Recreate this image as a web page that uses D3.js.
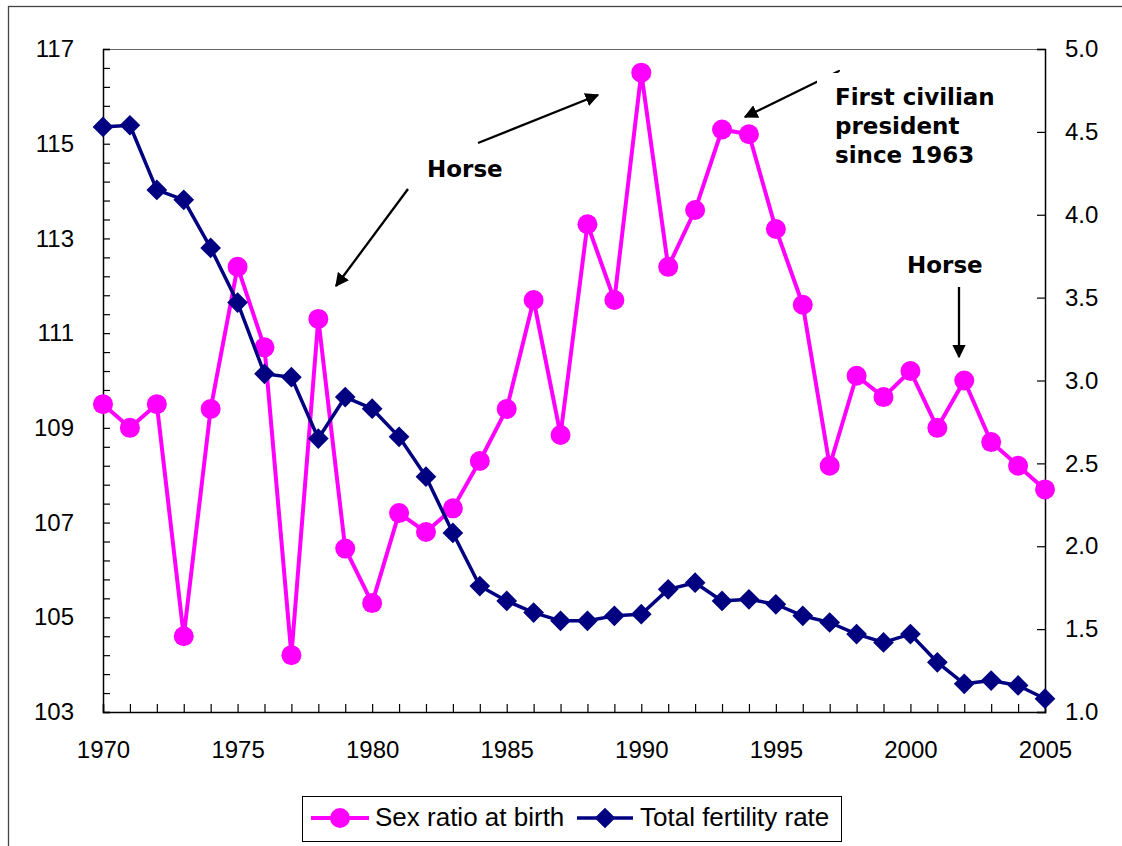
<!DOCTYPE html>
<html>
<head>
<meta charset="utf-8">
<script src="https://cdn.jsdelivr.net/npm/d3@7"></script>
<style>
  body { margin:0; background:#fff; }
  svg { display:block; }
  .tick text { font-family: Arial, "Liberation Sans", sans-serif; font-size:24px; fill:#000; }
  .note { font-family: Verdana, "DejaVu Sans", sans-serif; font-weight:bold; font-size:23px; fill:#000; }
  .leg { font-family: Arial, "Liberation Sans", sans-serif; font-size:26px; fill:#000; }
</style>
</head>
<body>
<script>
// data
var years = d3.range(1970, 2006)
var sexRatio = [109.5,109.0,109.5,104.6,109.4,112.4,110.7,104.2,111.3,106.45,
                105.3,107.2,106.8,107.3,108.3,109.4,111.7,108.85,113.3,111.7,
                116.5,112.4,113.6,115.3,115.2,113.2,111.6,108.2,110.1,109.65,
                110.2,109.0,110.0,108.7,108.2,107.7]
var tfr = [4.53,4.54,4.15,4.09,3.80,3.47,3.04,3.02,2.65,2.90,
           2.83,2.66,2.42,2.08,1.76,1.67,1.60,1.55,1.55,1.58,
           1.59,1.74,1.78,1.67,1.68,1.65,1.58,1.54,1.47,1.42,
           1.47,1.30,1.17,1.19,1.16,1.08]
var xLabels = [1970,1975,1980,1985,1990,1995,2000,2005]
var leftLabels = [103,105,107,109,111,113,115,117]
var rightTicks = [1.0,1.5,2.0,2.5,3.0,3.5,4.0,4.5,5.0]
var seriesNames = ['Sex ratio at birth','Total fertility rate']

var W=1122, H=846
var L=103, R=1045, T=49, B=712

var svg=d3.select('body').append('svg').attr('width',W).attr('height',H)

// chart area border (runs off the right and bottom)
svg.append('rect').attr('x',8.5).attr('y',6.5).attr('width',1200).attr('height',1000)
  .attr('fill','none').attr('stroke','#444').attr('stroke-width',1.3)

var x=d3.scaleLinear().domain([1970,2005]).range([L,R])
var yL=d3.scaleLinear().domain([103,117]).range([B,T])
var yR=d3.scaleLinear().domain([1,5]).range([B,T])

// plot area top edge
svg.append('line').attr('x1',L).attr('x2',R).attr('y1',T+0.5).attr('y2',T+0.5)
  .attr('stroke','#666').attr('stroke-width',1.2)

// left axis: ticks every 0.4, labels at odd integers
var leftTicks=d3.range(0,36).map(function(k){return 103+0.4*k})
var axL=d3.axisLeft(yL).tickValues(leftTicks).tickSize(-7).tickPadding(29)
  .tickFormat(function(v){
    var r=Math.round(v)
    return (Math.abs(v-r)<1e-6 && leftLabels.indexOf(r)>=0) ? r : ''
  })
svg.append('g').attr('transform','translate('+L+',0)').call(axL)

var axR=d3.axisRight(yR).tickValues(rightTicks).tickSize(-8).tickPadding(20)
  .tickFormat(d3.format('.1f'))
svg.append('g').attr('transform','translate('+R+',0)').call(axR)

var axB=d3.axisBottom(x).tickValues(years).tickSize(-8).tickPadding(29)
  .tickFormat(function(v){return xLabels.indexOf(v)>=0 ? v : ''})
svg.append('g').attr('transform','translate(0,'+B+')').call(axB)

svg.selectAll('.domain').attr('stroke','#000').attr('stroke-width',1.5)
svg.selectAll('.tick line').attr('stroke','#000').attr('stroke-width',1.2)

// sex ratio series
var lineL=d3.line().x(function(d,i){return x(years[i])}).y(function(d){return yL(d)})
svg.append('path').attr('d',lineL(sexRatio)).attr('fill','none')
  .attr('stroke','#ff00ff').attr('stroke-width',4).attr('stroke-linejoin','round')
svg.append('g').selectAll('circle').data(sexRatio).enter().append('circle')
  .attr('cx',function(d,i){return x(years[i])}).attr('cy',function(d){return yL(d)})
  .attr('r',10).attr('fill','#ff00ff')

// fertility series
var lineR=d3.line().x(function(d,i){return x(years[i])}).y(function(d){return yR(d)})
svg.append('path').attr('d',lineR(tfr)).attr('fill','none')
  .attr('stroke','#000080').attr('stroke-width',3.5).attr('stroke-linejoin','round')
var diamond=d3.symbol().type(d3.symbolSquare).size(215)
svg.append('g').selectAll('path').data(tfr).enter().append('path')
  .attr('d',diamond)
  .attr('transform',function(d,i){return 'translate('+x(years[i])+','+yR(d)+') rotate(45)'})
  .attr('fill','#000080')

// annotations
var defs=svg.append('defs')
defs.append('marker').attr('id','ah').attr('viewBox','0 0 10 10').attr('refX',9).attr('refY',5)
  .attr('markerWidth',6).attr('markerHeight',6).attr('markerUnits','strokeWidth').attr('orient','auto')
  .append('path').attr('d','M0,0 L10,5 L0,10 z').attr('fill','#000')

var arrows=[[408,189,336,286],[478,143,598,95],[839,71,745,117],[959,287,959,357]]
svg.append('g').selectAll('line').data(arrows).enter().append('line')
  .attr('x1',function(d){return d[0]}).attr('y1',function(d){return d[1]})
  .attr('x2',function(d){return d[2]}).attr('y2',function(d){return d[3]})
  .attr('stroke','#000').attr('stroke-width',2.3).attr('marker-end','url(#ah)')

// text box of the president note hides the start of its arrow
svg.append('rect').attr('x',817).attr('y',73).attr('width',190).attr('height',100).attr('fill','#fff')
svg.append('rect').attr('x',838.5).attr('y',70).attr('width',1.5).attr('height',1.5).attr('fill','#000')

svg.append('text').attr('class','note').attr('x',427).attr('y',177).text('Horse')
svg.append('text').attr('class','note').attr('x',907).attr('y',273).text('Horse')
var pres=svg.append('text').attr('class','note')
;['First civilian','president','since 1963'].forEach(function(s,i){
  pres.append('tspan').attr('x',835).attr('y',105+i*29).text(s)
})

// legend
var lg=svg.append('g')
lg.append('rect').attr('x',302.5).attr('y',796.5).attr('width',539).attr('height',45)
  .attr('fill','#fff').attr('stroke','#000').attr('stroke-width',1)
lg.append('line').attr('x1',311).attr('x2',369).attr('y1',818).attr('y2',818)
  .attr('stroke','#ff00ff').attr('stroke-width',4)
lg.append('circle').attr('cx',340).attr('cy',818).attr('r',10).attr('fill','#ff00ff')
lg.append('text').attr('class','leg').attr('x',375).attr('y',826).text(seriesNames[0])
lg.append('line').attr('x1',577).attr('x2',633).attr('y1',818).attr('y2',818)
  .attr('stroke','#000080').attr('stroke-width',3.5)
lg.append('path').attr('d',diamond).attr('transform','translate(605,818) rotate(45)').attr('fill','#000080')
lg.append('text').attr('class','leg').attr('x',640).attr('y',826).text(seriesNames[1])
</script>
</body>
</html>
